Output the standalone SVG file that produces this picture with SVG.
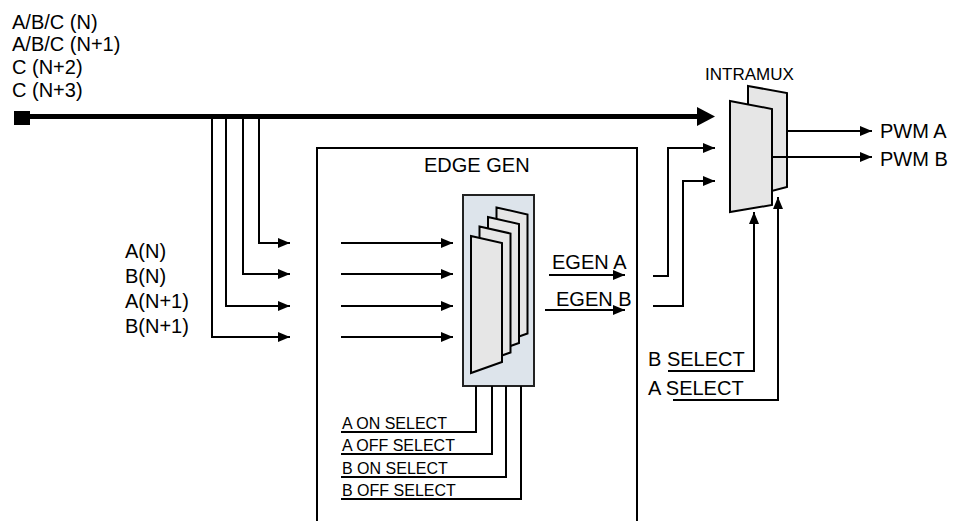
<svg xmlns="http://www.w3.org/2000/svg" width="953" height="521" viewBox="0 0 953 521">
<defs>
<style>
text{font-family:"Liberation Sans",Arial,sans-serif;fill:#000}
.t20{font-size:20px}
.t16{font-size:16px}
.ln{fill:none;stroke:#000;stroke-width:2}
.plate{fill:#e6e6e6;stroke:#000;stroke-width:2;stroke-linejoin:miter}
</style>
<marker id="ah" viewBox="0 0 12 10" refX="12" refY="5" markerWidth="12" markerHeight="10" markerUnits="userSpaceOnUse" orient="auto">
<path d="M0,0 L12,5 L0,10 Z" fill="#000"/>
</marker>
<path id="pl" d="M0,0 L31,7 L31,126 L0,137 Z"/>
</defs>
<rect width="953" height="521" fill="#fff"/>

<g id="input-labels">
<text class="t20" x="12" y="29">A/B/C (N)</text>
<text class="t20" x="12" y="51">A/B/C (N+1)</text>
<text class="t20" x="12" y="74">C (N+2)</text>
<text class="t20" x="12" y="97">C (N+3)</text>
</g>

<g id="edge-gen">
<rect x="317" y="148" width="320" height="390" fill="none" stroke="#000" stroke-width="2"/>
<text class="t20" x="424" y="172">EDGE GEN</text>
<rect x="463" y="195" width="71" height="191" fill="#dde4eb" stroke="#222" stroke-width="2"/>
<use href="#pl" x="496.5" y="207.5" class="plate"/>
<use href="#pl" x="488" y="217" class="plate"/>
<use href="#pl" x="479.5" y="226.5" class="plate"/>
<use href="#pl" x="471" y="236" class="plate"/>
<text class="t20" x="552" y="269">EGEN A</text>
<text class="t20" x="556" y="306">EGEN B</text>
</g>

<g id="intramux">
<text class="t16" x="705" y="80" style="font-size:17px">INTRAMUX</text>
<path class="plate" d="M748,86 L787,93 L787,187 L748,197 Z"/>
<path class="plate" d="M730,101 L772,109 L772,205 L730,212 Z"/>
</g>

<g id="side-labels">
<text class="t20" x="125" y="258">A(N)</text>
<text class="t20" x="125" y="283">B(N)</text>
<text class="t20" x="125" y="308">A(N+1)</text>
<text class="t20" x="125" y="333">B(N+1)</text>
<text class="t20" x="880" y="138">PWM A</text>
<text class="t20" x="880" y="166">PWM B</text>
<text class="t20" x="648" y="366">B SELECT</text>
<text class="t20" x="648" y="395">A SELECT</text>
<text class="t16" x="342" y="429">A ON SELECT</text>
<text class="t16" x="342" y="451">A OFF SELECT</text>
<text class="t16" x="342" y="474">B ON SELECT</text>
<text class="t16" x="342" y="496">B OFF SELECT</text>
</g>

<g id="connectors">
<rect x="14" y="111" width="16" height="14" fill="#000"/>
<line x1="30" y1="116.5" x2="698" y2="116.5" stroke="#000" stroke-width="5"/>
<path d="M697,107 L715,116.5 L697,126 Z" fill="#000"/>
<path class="ln" d="M259,117 V243 H290" marker-end="url(#ah)"/>
<path class="ln" d="M243,117 V274 H290" marker-end="url(#ah)"/>
<path class="ln" d="M226,117 V306 H290" marker-end="url(#ah)"/>
<path class="ln" d="M212,117 V337 H290" marker-end="url(#ah)"/>
<path class="ln" d="M341,243 H453" marker-end="url(#ah)"/>
<path class="ln" d="M341,274 H453" marker-end="url(#ah)"/>
<path class="ln" d="M341,306 H453" marker-end="url(#ah)"/>
<path class="ln" d="M341,337 H453" marker-end="url(#ah)"/>
<path class="ln" d="M549,275 H625" marker-end="url(#ah)"/>
<path class="ln" d="M545,310 H625" marker-end="url(#ah)"/>
<path class="ln" d="M653,276 H668 V148 H715" marker-end="url(#ah)"/>
<path class="ln" d="M653,306 H683 V181 H715" marker-end="url(#ah)"/>
<path class="ln" d="M787,131 H872" marker-end="url(#ah)"/>
<path class="ln" d="M772,157 H872" marker-end="url(#ah)"/>
<path class="ln" d="M668,371 H754 V212" marker-end="url(#ah)"/>
<path class="ln" d="M673,400 H778 V197" marker-end="url(#ah)"/>
<path class="ln" d="M476,386 V432 H341"/>
<path class="ln" d="M492,386 V454 H341"/>
<path class="ln" d="M506,386 V477 H341"/>
<path class="ln" d="M521,386 V499 H341"/>
</g>
</svg>
